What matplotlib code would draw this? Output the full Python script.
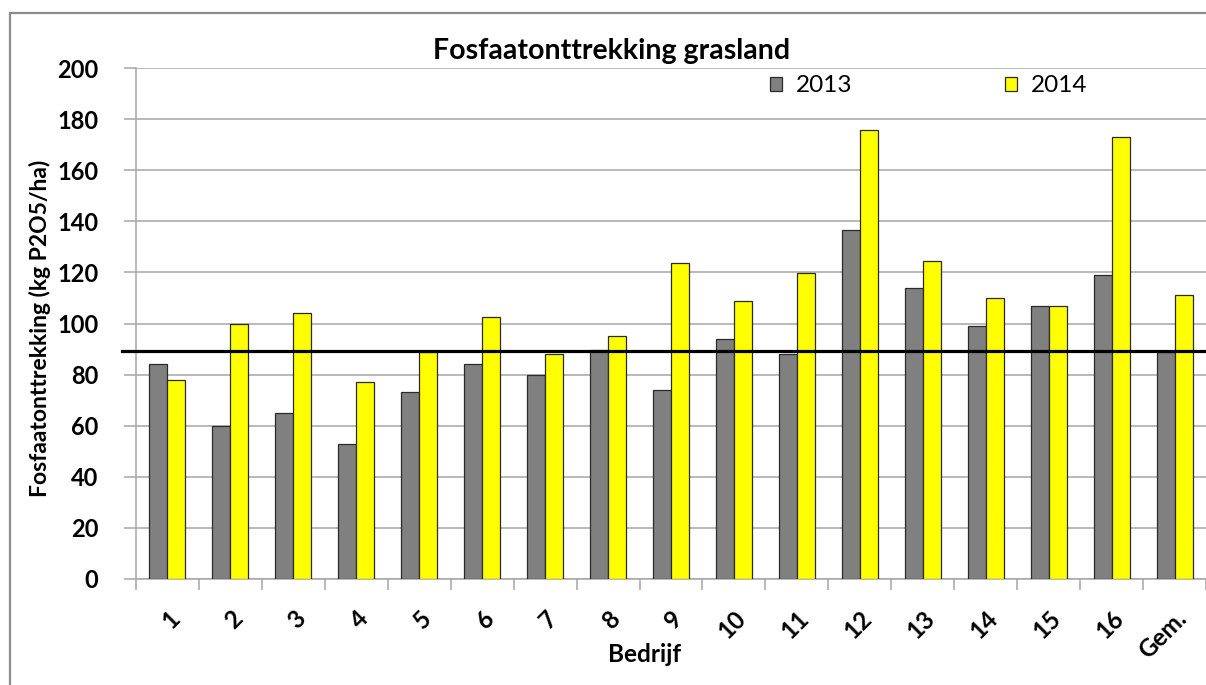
import matplotlib
matplotlib.use("Agg")
import matplotlib.pyplot as plt
import numpy as np
from matplotlib.patches import Rectangle

categories = ["1", "2", "3", "4", "5", "6", "7", "8", "9", "10", "11", "12", "13", "14", "15", "16", "Gem."]
v2013 = [84, 60, 65, 53, 73, 84, 80, 89.5, 74, 94, 88, 136.6, 113.7, 99, 106.7, 118.8, 88.7]
v2014 = [78, 100, 104, 77, 89, 102.5, 88, 95, 123.6, 108.8, 119.7, 175.7, 124.6, 110.1, 106.7, 172.9, 111]
reference_line = 89.3
yticks = [0, 20, 40, 60, 80, 100, 120, 140, 160, 180, 200]

plt.rcParams['font.family'] = ['Lato', 'DejaVu Sans']

W, H = 1206, 685
fig = plt.figure(figsize=(W / 100, H / 100), dpi=100)

# outer chart border
fig.patches.append(Rectangle((10 / W, -0.1), 1.2, 1 - 13 / H + 0.1, transform=fig.transFigure,
                             fill=False, edgecolor="#8c8c8c", linewidth=1.6))

left, right, top, bottom = 136, 1206, 68, 579
ax = fig.add_axes([left / W, 1 - bottom / H, (right - left) / W, (bottom - top) / H])

x = np.arange(len(categories))
bw = 0.286
ax.bar(x - bw / 2, v2013, width=bw, color="#808080", edgecolor="#2a2a2a", linewidth=0.9, label="2013", zorder=3)
ax.bar(x + bw / 2, v2014, width=bw, color="#ffff00", edgecolor="#2a2a2a", linewidth=0.9, label="2014", zorder=3)

ax.axhline(reference_line, xmin=-0.013, xmax=1, color="black", linewidth=2.3, clip_on=False, zorder=4)

ax.set_xlim(-0.5, len(categories) - 0.5)
ax.set_ylim(0, 200)
ax.set_yticks(yticks)
ax.yaxis.grid(True, color="#a6a6a6", linewidth=1.1, zorder=0)
ax.set_axisbelow(True)

ax.set_xticks(x)
ax.set_xticklabels(categories, rotation=45, ha="right", va="top", rotation_mode="anchor",
                   fontsize=17.5, fontweight="bold")
ax.set_xticks(np.arange(-0.5, len(categories) + 0.5, 1), minor=True)
ax.tick_params(axis="x", which="major", length=0, pad=20)
ax.tick_params(axis="x", which="minor", length=8, color="#a6a6a6", width=1.1)
ax.tick_params(axis="y", length=9, color="#a6a6a6", width=1.1, labelsize=17, pad=18)
for lab in ax.get_yticklabels():
    lab.set_fontweight("bold")

for s in ["top", "right"]:
    ax.spines[s].set_visible(False)
for s in ["left", "bottom"]:
    ax.spines[s].set_color("#a6a6a6")
    ax.spines[s].set_linewidth(1.1)

fig.text(612 / W, 1 - 51 / H, "Fosfaatonttrekking grasland", ha="center", va="center",
         fontsize=20.5, fontweight="bold")
fig.text(645 / W, 1 - 655 / H, "Bedrijf", ha="center", va="center", fontsize=17.5, fontweight="bold")
fig.text(40 / W, 1 - 328 / H, "Fosfaatonttrekking (kg P2O5/ha)", ha="center", va="center",
         rotation=90, fontsize=16.5, fontweight="bold")

leg = fig.legend(loc="center left", bbox_to_anchor=(770 / W, 1 - 86 / H), ncol=2, frameon=False,
                 fontsize=17.5, handlelength=0.5, handleheight=0.5, handletextpad=0.55,
                 columnspacing=6.3, borderaxespad=0, borderpad=0)

fig.savefig("out.png", dpi=100)
